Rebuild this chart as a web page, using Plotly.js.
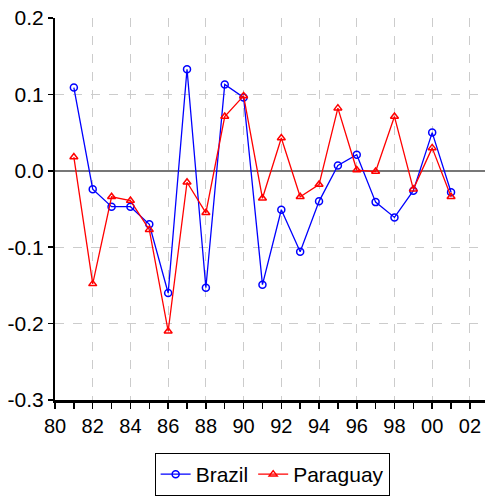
<!DOCTYPE html>
<html><head><meta charset="utf-8">
<script src="https://cdn.plot.ly/plotly-3.0.1.min.js"></script>
<style>html,body{margin:0;padding:0;background:#fff}#chart{width:485px;height:496px}</style>
</head><body><div id="chart"></div>
<script>
const years = [1981,1982,1983,1984,1985,1986,1987,1988,1989,1990,1991,1992,1993,1994,1995,1996,1997,1998,1999,2000,2001];
const brazil = [0.109,-0.024,-0.047,-0.047,-0.070,-0.160,0.133,-0.153,0.113,0.096,-0.149,-0.051,-0.106,-0.040,0.007,0.021,-0.041,-0.061,-0.026,0.050,-0.028];
const paraguay = [0.018,-0.148,-0.034,-0.039,-0.077,-0.210,-0.015,-0.055,0.071,0.098,-0.036,0.043,-0.034,-0.018,0.082,0.001,-0.001,0.071,-0.024,0.030,-0.034];
const xTickVals = [1980,1982,1984,1986,1988,1990,1992,1994,1996,1998,2000,2002];
const xTickText = ["80","82","84","86","88","90","92","94","96","98","00","02"];
const yTickVals = [0.2,0.1,0.0,-0.1,-0.2,-0.3];
const yTickText = ["0.2","0.1","0.0","-0.1","-0.2","-0.3"];

const font = {family:"Liberation Sans", size:21, color:"#000"};
const xfont = {family:"Liberation Sans", size:20, color:"#000"};
const traces = [
  {x:years, y:brazil, name:"Brazil", type:"scatter", mode:"lines+markers",
   line:{color:"#0000ff", width:1.3}, marker:{symbol:"circle-open", size:7, color:"#0000ff", line:{width:1.5}}},
  {x:years, y:paraguay, name:"Paraguay", type:"scatter", mode:"lines+markers",
   line:{color:"#ff0000", width:1.3}, marker:{symbol:"triangle-up-open", size:7, color:"#ff0000", line:{width:1.5}}}
];
const layout = {
  width:485, height:496,
  margin:{l:55, r:0, t:18, b:92},
  paper_bgcolor:"#fff", plot_bgcolor:"#fff",
  font:font,
  showlegend:true,
  legend:{orientation:"h", x:0.505, xanchor:"center", y:-0.14, yanchor:"top",
          bordercolor:"#000", borderwidth:1, font:font, itemwidth:30, tracegroupgap:0},
  xaxis:{range:[1980,2002.8], tickvals:xTickVals, ticktext:xTickText, ticks:"outside", ticklen:6, tickwidth:1.5, tickcolor:"#000",
         showline:true, linecolor:"#000", linewidth:2.5, showgrid:true, gridcolor:"#cccccc", griddash:"dash", gridwidth:1,
         zeroline:false, tickfont:xfont,
         minor:{tickvals:[1981,1983,1985,1987,1989,1991,1993,1995,1997,1999,2001], ticks:"outside", ticklen:6, tickwidth:1.5, tickcolor:"#000", showgrid:false}},
  yaxis:{range:[-0.3,0.2], tickvals:yTickVals, ticktext:yTickText, ticks:"outside", ticklen:5, tickwidth:1.5, tickcolor:"#000",
         showline:true, linecolor:"#000", linewidth:2, showgrid:true, gridcolor:"#cccccc", griddash:"dash", gridwidth:1,
         zeroline:true, zerolinecolor:"#777", zerolinewidth:1.5, tickfont:font},
  shapes:[{type:"line", xref:"paper", x0:0, x1:1, yref:"y", y0:0, y1:0, line:{color:"#111", width:1.5, dash:"dash"}, layer:"between"}]
};
Plotly.newPlot("chart", traces, layout, {displayModeBar:false, staticPlot:true});
</script></body></html>
